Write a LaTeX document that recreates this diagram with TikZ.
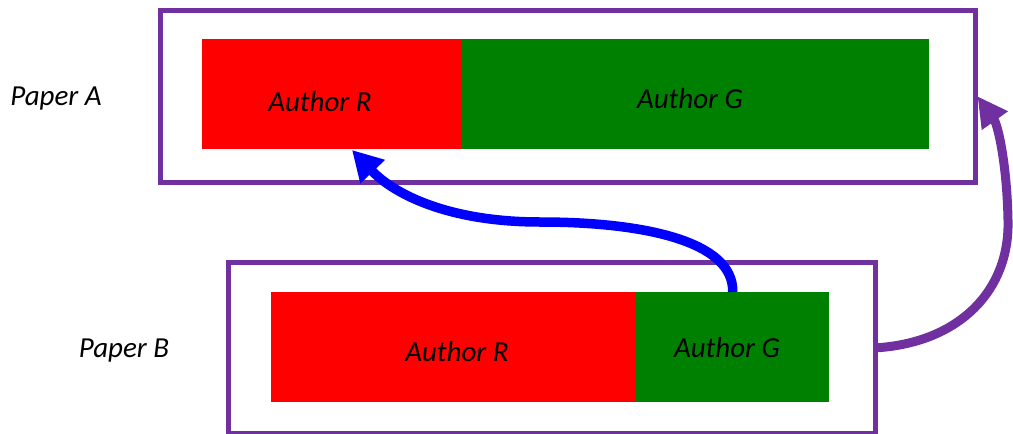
\documentclass[tikz,border=0pt]{standalone}
\usepackage{fontspec}
\setmainfont{Carlito}
\usetikzlibrary{arrows.meta}
\definecolor{ppurple}{HTML}{7030A0}
\definecolor{pgreen}{HTML}{008000}
\begin{document}
\begin{tikzpicture}[x=1pt,y=-1pt,
  frame/.style={draw=ppurple,line width=4.5pt,inner sep=0pt,anchor=north west},
  blk/.style={inner sep=0pt,anchor=north west},
  lbl/.style={font=\fontsize{29}{33}\selectfont\itshape}]
\useasboundingbox (0,0) rectangle (1013,434);
\node[frame,minimum width=815pt,minimum height=172pt] (boxA) at (158,8) {};
\node[frame,minimum width=647pt,minimum height=171pt] (boxB) at (226,260) {};
\node[blk,fill=red,minimum width=259pt,minimum height=110pt] (rA) at (202,39) {};
\node[blk,fill=pgreen,minimum width=468pt,minimum height=110pt] (gA) at (461,39) {};
\node[blk,fill=red,minimum width=365pt,minimum height=110pt] (rB) at (271,292) {};
\node[blk,fill=pgreen,minimum width=193pt,minimum height=110pt] (gB) at (636,292) {};
\node[lbl] (tRA) at (320,102) {Author R};
\node[lbl] (tGA) at (690,99) {Author G};
\node[lbl] (tRB) at (457,352) {Author R};
\node[lbl] (tGB) at (727,348) {Author G};
\node[lbl] (pA) at (56,99) {Paper A};
\node[lbl] (pB) at (124,351) {Paper B};
\coordinate (tipA) at (352,150);
\draw[blue,line width=9.5pt,-{Triangle[length=30pt,width=32pt]}]
  (gB.north) .. controls (734,240) and (640,222) .. (540,222)
  .. controls (450,222) and (395,195) .. (tipA);
\draw[ppurple,line width=9pt,-{Triangle[length=30pt,width=30pt]}]
  (boxB.east) .. controls (960,342) and (1010,290) .. (1008,220)
  .. controls (1007,165) and (998,125) .. (boxA.east);
\end{tikzpicture}
\end{document}
